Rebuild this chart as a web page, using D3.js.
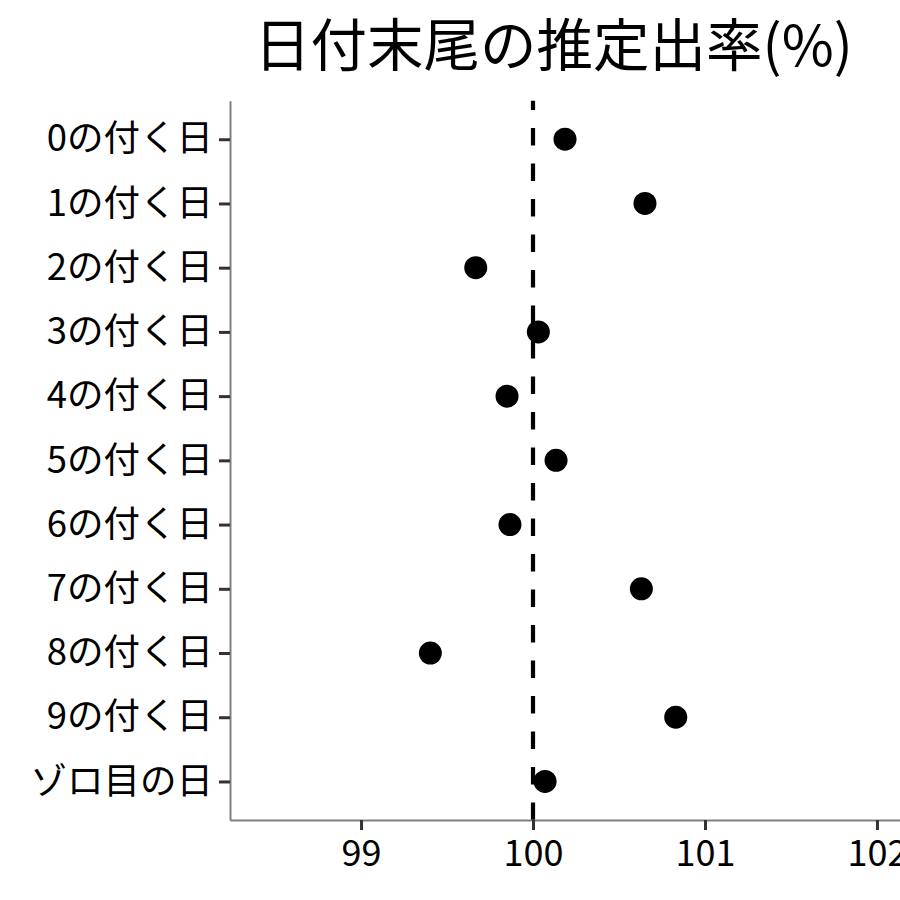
<!DOCTYPE html>
<html><head><meta charset="utf-8">
<script src="https://cdn.jsdelivr.net/npm/d3@7"></script>
<style>
body{margin:0;background:#fff;}
svg{display:block;font-family:"Noto Sans CJK JP","Noto Sans",sans-serif;}
</style></head>
<body>
<script>
const titleText = "日付末尾の推定出率(%)";
const categories = ["0の付く日","1の付く日","2の付く日","3の付く日","4の付く日","5の付く日","6の付く日","7の付く日","8の付く日","9の付く日","ゾロ目の日"];
const values = [100.186,100.651,99.667,100.031,99.849,100.134,99.866,100.630,99.403,100.830,100.070];
const xTicks = [99,100,101,102];
const refValue = 100;

const W=900,H=900;
const pLeft=230, pRight=900, pTop=100.7, pBottom=820;
const svg=d3.select("body").append("svg").attr("width",W).attr("height",H);

const x=d3.scaleLinear().domain([98.238,102.134]).range([pLeft,pRight]);
const y=d3.scalePoint().domain(categories).range([pTop,pBottom]).padding(0.6);

// reference line (dash pattern starting from bottom)
svg.append("line")
  .attr("x1",x(refValue)).attr("x2",x(refValue))
  .attr("y1",pBottom).attr("y2",pTop)
  .attr("stroke","#000").attr("stroke-width",4.2)
  .attr("stroke-dasharray","17.6,17.9");

// points
svg.append("g").selectAll("circle").data(values).join("circle")
  .attr("cx",d=>x(d)).attr("cy",(d,i)=>y(categories[i]))
  .attr("r",11.5).attr("fill","#000");

// x axis
const xa=svg.append("g").attr("transform",`translate(0,${pBottom})`)
  .call(d3.axisBottom(x).tickValues(xTicks).tickFormat(d3.format("d")).tickSize(10).tickPadding(10).tickSizeOuter(0));
xa.select(".domain").attr("stroke","#808080").attr("stroke-width",2);
xa.selectAll(".tick line").attr("stroke","#333").attr("stroke-width",3);
xa.selectAll(".tick text").attr("font-size",36).attr("fill","#000").attr("font-family",'"Noto Sans CJK JP"');

// y axis
const ya=svg.append("g").attr("transform",`translate(${pLeft},0)`)
  .call(d3.axisLeft(y).tickSize(11).tickPadding(6).tickSizeOuter(0));
ya.select(".domain").attr("stroke","#808080").attr("stroke-width",2);
ya.selectAll(".tick line").attr("stroke","#333").attr("stroke-width",3);
ya.selectAll(".tick text").attr("font-size",36.5).attr("fill","#000").attr("font-family",'"Noto Sans CJK JP"');

// title
svg.append("text").attr("x",553.5).attr("y",66)
  .attr("text-anchor","middle").attr("font-size",56.5).attr("fill","#000")
  .text(titleText);
</script>
</body></html>
